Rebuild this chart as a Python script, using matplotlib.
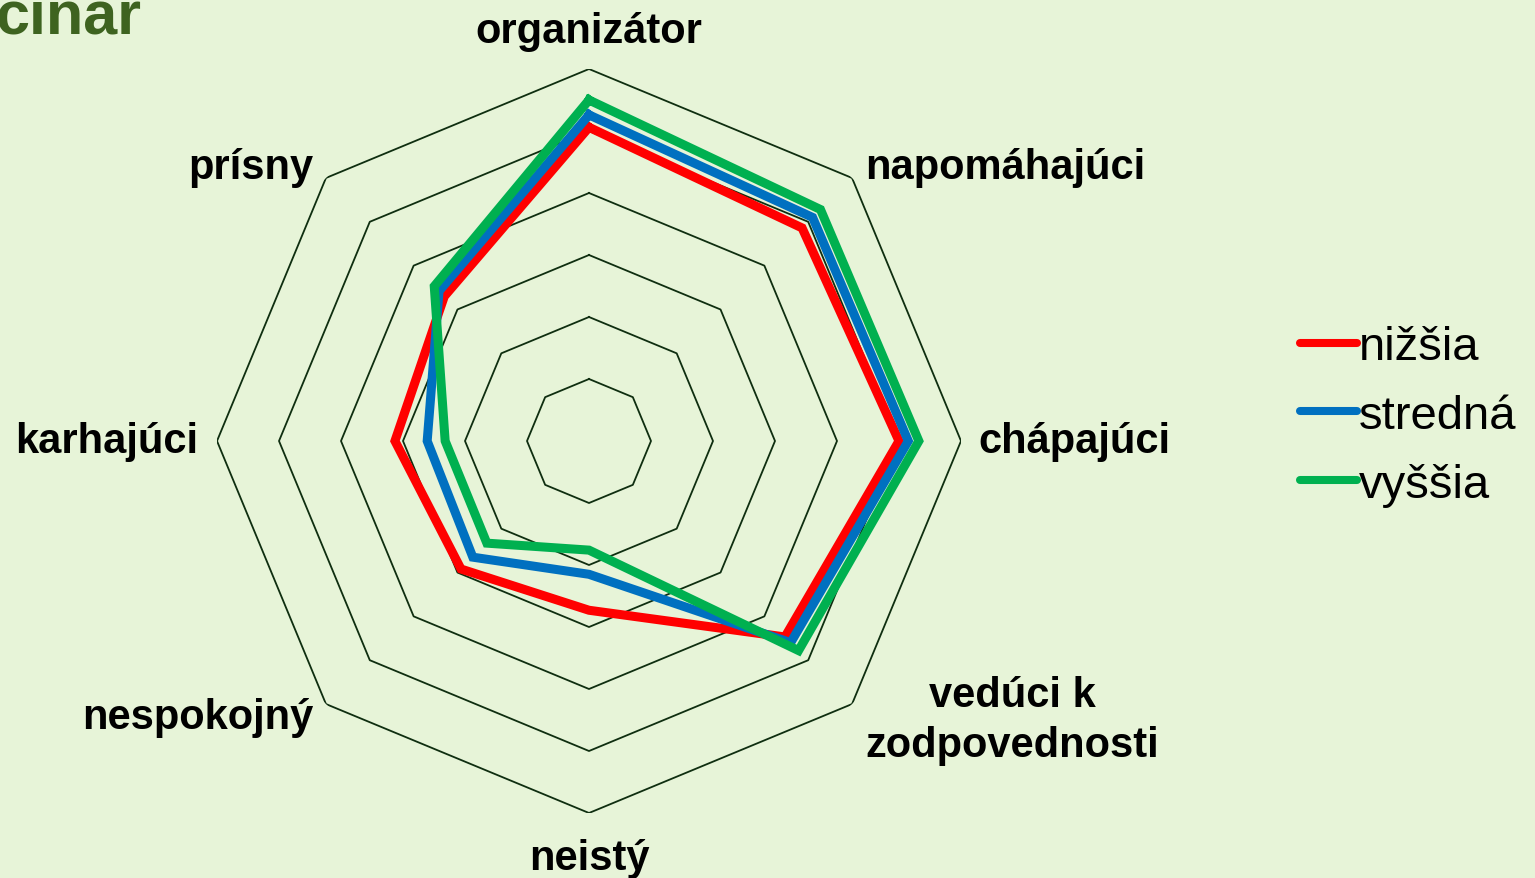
import numpy as np
import matplotlib
matplotlib.use("Agg")
import matplotlib.pyplot as plt

categories = ["organizátor", "napomáhajúci", "chápajúci", "vedúci k\nzodpovednosti",
              "neistý", "nespokojný", "karhajúci", "prísny"]
series_names = ["nižšia", "stredná", "vyššia"]
nizsia = [5.06, 4.86, 5.00, 4.47, 2.73, 2.92, 3.13, 3.30]
stredna = [5.26, 5.10, 5.15, 4.60, 2.15, 2.65, 2.61, 3.42]
vyssia = [5.50, 5.28, 5.32, 4.78, 1.76, 2.33, 2.32, 3.53]
ring_levels = [1, 2, 3, 4, 5, 6]
title_text = "činar"

colors = ["#FF0000", "#0070C0", "#00B050"]
bg = "#E7F4D8"
grid_color = "#0F2E10"
W, H = 1535, 879
fig = plt.figure(figsize=(W / 100, H / 100), dpi=100, facecolor=bg)

cx, cy, R = 589, 442, 372
ax = fig.add_axes([(cx - R) / W, (H - cy - R) / H, 2 * R / W, 2 * R / H], projection="polar")
ax.set_facecolor("none")
ax.set_theta_zero_location("N")
ax.set_theta_direction(-1)
ax.set_ylim(0, ring_levels[-1])
ax.grid(False)
ax.set_xticks([])
ax.set_yticks([])
ax.spines["polar"].set_visible(False)

n = len(categories)
theta = np.arange(n) * 2 * np.pi / n
theta_c = np.append(theta, theta[0])

for lv in ring_levels:
    ax.plot(theta_c, [lv] * (n + 1), color=grid_color, lw=1.3, zorder=1)

for vals, name, col in zip([nizsia, stredna, vyssia], series_names, colors):
    v = list(vals) + [vals[0]]
    ax.plot(theta_c, v, color=col, lw=6.5, label=name, solid_joinstyle="miter", zorder=3)

label_font = dict(family="Liberation Sans", fontweight="bold", fontsize=30, color="black")
offsets = [(0, 38, "center", "center"), (13, 11, "left", "center"), (17, 0, "left", "center"),
           (13, -16, "left", "center"), (0, -45, "center", "center"), (-13, -13, "right", "center"),
           (-19, 0, "right", "center"), (-13, 11, "right", "center")]
top = ring_levels[-1]
for t, lab, (dx, dy, ha, va) in zip(theta, categories, offsets):
    ax.annotate(lab, xy=(t, top), xytext=(dx, dy), textcoords="offset pixels",
                ha=ha, va=va, multialignment="center", linespacing=1.3,
                annotation_clip=False, **label_font)

leg = ax.legend(loc="center left", bbox_to_anchor=(1300 / W, (H - 417) / H),
                bbox_transform=fig.transFigure, frameon=False,
                prop=dict(family="Liberation Sans", size=34),
                handlelength=1.2, handletextpad=0.05, labelspacing=0.52,
                borderpad=0, borderaxespad=0)
for h in leg.get_lines():
    h.set_solid_capstyle("round")
    h.set_linewidth(5.8)

fig.text(-0.003, (H - 34) / H, title_text, family="Liberation Sans", fontweight="bold",
         fontsize=44, color="#3E6320", ha="left", va="baseline")

fig.savefig("out.png", dpi=100, facecolor=bg)
